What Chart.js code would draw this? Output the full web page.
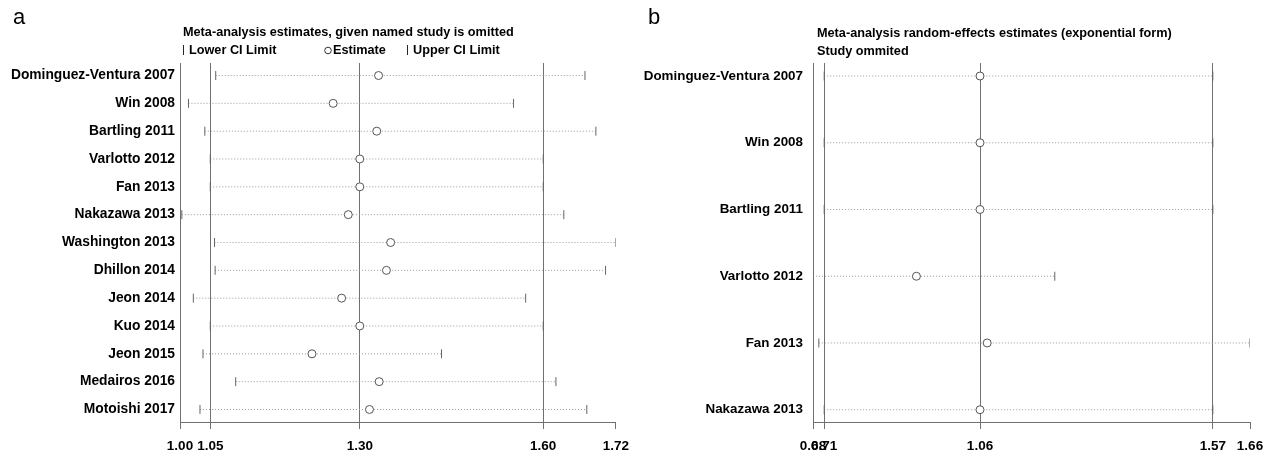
<!DOCTYPE html>
<html>
<head>
<meta charset="utf-8">
<script src="https://cdn.jsdelivr.net/npm/chart.js@4.4.0/dist/chart.umd.min.js"></script>
<style>
  html, body { margin: 0; padding: 0; background: #fff; }
  #wrap { position: relative; width: 1275px; height: 452px; }
  .panel { position: absolute; top: 0; height: 452px; }
  #panelA { left: 0; width: 638px; }
  #panelB { left: 638px; width: 637px; }
</style>
</head>
<body>
<div id="wrap">
  <div class="panel" id="panelA"><canvas id="chartA"></canvas></div>
  <div class="panel" id="panelB"><canvas id="chartB"></canvas></div>
</div>
<script>
// panel a - meta-analysis estimates, given named study is omitted
var studiesA = ['Dominguez-Ventura 2007', 'Win 2008', 'Bartling 2011', 'Varlotto 2012', 'Fan 2013',
  'Nakazawa 2013', 'Washington 2013', 'Dhillon 2014', 'Jeon 2014', 'Kuo 2014', 'Jeon 2015',
  'Medairos 2016', 'Motoishi 2017'];
var lowerA = [1.059, 1.014, 1.041, 1.05, 1.05, 1.003, 1.057, 1.058, 1.022, 1.05, 1.038, 1.092, 1.033];
var estA   = [1.328, 1.253, 1.325, 1.297, 1.297, 1.278, 1.348, 1.341, 1.267, 1.297, 1.218, 1.329, 1.313];
var upperA = [1.669, 1.551, 1.687, 1.60, 1.60, 1.634, 1.72, 1.703, 1.571, 1.60, 1.432, 1.621, 1.672];
var tickValsA = [1.00, 1.05, 1.297, 1.60, 1.72];
var tickLabelsA = ['1.00', '1.05', '1.30', '1.60', '1.72'];
var refLinesA = [1.05, 1.297, 1.60];

// panel b - random-effects estimates (exponential form), study omitted
var studiesB = ['Dominguez-Ventura 2007', 'Win 2008', 'Bartling 2011', 'Varlotto 2012', 'Fan 2013', 'Nakazawa 2013'];
var lowerB = [0.709, 0.709, 0.709, 0.684, 0.697, 0.709];
var estB   = [1.057, 1.057, 1.057, 0.915, 1.073, 1.057];
var upperB = [1.577, 1.577, 1.577, 1.224, 1.66, 1.577];
var tickValsB = [0.684, 0.709, 1.057, 1.577, 1.66];
var tickLabelsB = ['0.68', '0.71', '1.06', '1.57', '1.66'];
var refLinesB = [0.709, 1.057, 1.577];

var FONT = "'Liberation Sans', Arial, Helvetica, sans-serif";
var LINE_COL = '#707070';

function pts(xs) {
  return xs.map(function(x, i) { return {x: x, y: i}; });
}

function ciSegments(lo, hi) {
  var out = [];
  for (var i = 0; i < lo.length; i++) {
    out.push({x: lo[i], y: i}, {x: hi[i], y: i}, {x: NaN, y: NaN});
  }
  return out;
}

function makeConfig(p) {
  return {
    type: 'scatter',
    data: {
      datasets: [
        { label: 'Estimate', data: pts(p.est), pointStyle: 'circle', pointRadius: 4, pointHoverRadius: 4,
          backgroundColor: '#fff', borderColor: '#555', borderWidth: 1 },
        { label: 'Lower CI Limit', data: pts(p.lower), pointStyle: 'line', rotation: 90, pointRadius: 4.5,
          borderColor: '#666', borderWidth: 1 },
        { label: 'Upper CI Limit', data: pts(p.upper), pointStyle: 'line', rotation: 90, pointRadius: 4.5,
          borderColor: '#666', borderWidth: 1 },
        { label: 'CI', data: ciSegments(p.lower, p.upper), showLine: true, spanGaps: false, pointRadius: 0,
          borderColor: '#999', borderWidth: 1, borderDash: [1, 2] }
      ]
    },
    options: {
      responsive: true,
      maintainAspectRatio: false,
      animation: false,
      events: [],
      layout: { padding: { top: 63, bottom: 0, left: 0, right: p.padRight } },
      plugins: { legend: { display: false }, tooltip: { enabled: false } },
      scales: {
        x: {
          type: 'linear',
          min: p.xmin, max: p.xmax,
          afterBuildTicks: function(scale) {
            scale.ticks = p.tickVals.map(function(v) { return {value: v}; });
          },
          afterFit: function(scale) { scale.height = 30; },
          ticks: {
            autoSkip: false, maxRotation: 0, padding: 9, color: '#000',
            font: { family: FONT, size: 13.5, weight: 'bold' },
            callback: function(v, i) { return p.tickLabels[i]; }
          },
          grid: {
            drawTicks: true, tickLength: 7, tickColor: LINE_COL, lineWidth: 1,
            color: function(ctx) {
              return ctx.tick && p.refLines.indexOf(ctx.tick.value) >= 0 ? LINE_COL : 'rgba(0,0,0,0)';
            }
          },
          border: { display: true, color: LINE_COL, width: 1 }
        },
        y: {
          type: 'linear',
          reverse: true,
          min: p.ymin, max: p.ymax,
          afterBuildTicks: function(scale) {
            scale.ticks = p.studies.map(function(s, i) { return {value: i}; });
          },
          afterFit: function(scale) { scale.width = p.yWidth; },
          ticks: {
            autoSkip: false, padding: p.yPad, color: '#000',
            font: { family: FONT, size: p.yFont, weight: 'bold' },
            callback: function(v) { return p.studies[v]; }
          },
          grid: { display: false, drawTicks: false, tickLength: 0 },
          border: { display: true, color: LINE_COL, width: 1 }
        }
      }
    },
    plugins: [p.header]
  };
}

var headerA = {
  id: 'headerA',
  afterDraw: function(chart) {
    var c = chart.ctx;
    c.save();
    c.fillStyle = '#000';
    c.textBaseline = 'middle';
    c.font = '22px ' + FONT;
    c.fillText('a', 13, 18);
    c.font = 'bold 12.7px ' + FONT;
    c.fillText('Meta-analysis estimates, given named study is omitted', 183, 32);
    c.fillText('Lower CI Limit', 189, 50);
    c.fillText('Estimate', 333, 50);
    c.fillText('Upper CI Limit', 413, 50);
    c.font = '11px ' + FONT;
    c.fillText('|', 182, 50);
    c.fillText('|', 406, 50);
    c.strokeStyle = '#333';
    c.lineWidth = 1;
    c.beginPath();
    c.arc(328, 50.5, 3.3, 0, Math.PI * 2);
    c.stroke();
    c.restore();
  }
};

var headerB = {
  id: 'headerB',
  afterDraw: function(chart) {
    var c = chart.ctx;
    c.save();
    c.fillStyle = '#000';
    c.textBaseline = 'middle';
    c.font = '22px ' + FONT;
    c.fillText('b', 10, 18);
    c.font = 'bold 12.7px ' + FONT;
    c.fillText('Meta-analysis random-effects estimates (exponential form)', 179, 33);
    c.fillText('Study ommited', 179, 51);
    c.restore();
  }
};

new Chart(document.getElementById('chartA'), makeConfig({
  studies: studiesA, lower: lowerA, est: estA, upper: upperA,
  tickVals: tickValsA, tickLabels: tickLabelsA, refLines: refLinesA,
  xmin: 1.00, xmax: 1.72, ymin: -0.45, ymax: 12.45,
  yWidth: 180, yPad: 5, yFont: 13.8, padRight: 22, header: headerA
}));

new Chart(document.getElementById('chartB'), makeConfig({
  studies: studiesB, lower: lowerB, est: estB, upper: upperB,
  tickVals: tickValsB, tickLabels: tickLabelsB, refLines: refLinesB,
  xmin: 0.684, xmax: 1.66, ymin: -0.195, ymax: 5.184,
  yWidth: 175, yPad: 10, yFont: 13.4, padRight: 25, header: headerB
}));
</script>
</body>
</html>
